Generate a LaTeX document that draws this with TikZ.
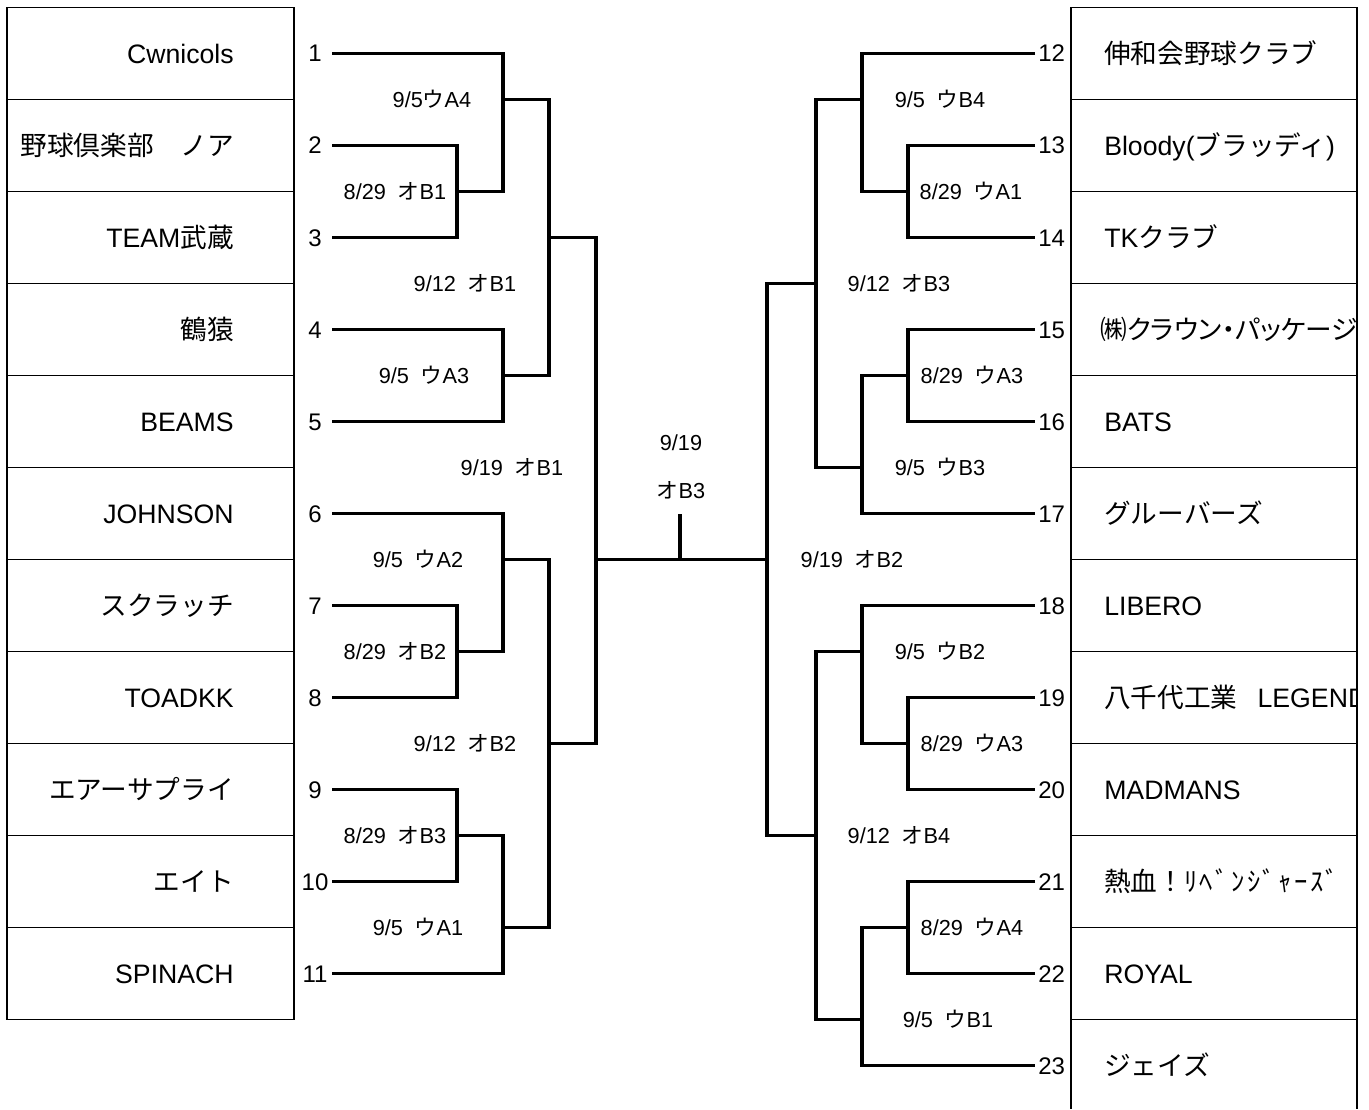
\documentclass[tikz,border=0pt]{standalone}
\usepackage{fontspec}
\setmainfont{Liberation Sans}
\newfontfamily\jp{Noto Sans CJK JP}
\newfontfamily\jpwide{Noto Sans CJK JP}[LetterSpace=9]
\newfontfamily\jpprop{Noto Sans CJK JP}[RawFeature=+palt]
\newcommand\labgap{\hspace{0.55em}}
\begin{document}
\begin{tikzpicture}[x=0.75pt,y=-0.75pt,
  grid/.style={line width=0.8pt,draw=black},
  br/.style={line width=2.5pt,draw=black,line join=miter},
  team/.style={font=\fontsize{20}{24}\selectfont,inner sep=0pt},
  num/.style={font=\fontsize{18}{21}\selectfont,inner sep=0pt},
  lab/.style={font=\fontsize{16.3}{19}\selectfont,inner sep=0pt,anchor=base}]
\useasboundingbox (0,0) rectangle (1369,1109);
% ---------- boxes ----------
\foreach \k in {0,...,11}{
  \draw[grid] (7,7.5+92*\k) -- (294,7.5+92*\k);
  \draw[grid] (1071,7.5+92*\k) -- (1357,7.5+92*\k);
}
\draw[grid] (7,7.5) -- (7,1019.5);
\draw[grid] (294,7.5) -- (294,1019.5);
\draw[grid] (1071,7.5) -- (1071,1109);
\draw[grid] (1357,7.5) -- (1357,1109);
% ---------- left teams ----------
\node[team,anchor=base east] (t1) at (234,63.2) {Cwnicols};
\node[team,anchor=base east] (t2) at (234,155.2) {\jp 野球倶楽部　ノア};
\node[team,anchor=base east] (t3) at (234,247.2) {TEAM{\jp 武蔵}};
\node[team,anchor=base east] (t4) at (234,339.2) {\jp 鶴猿};
\node[team,anchor=base east] (t5) at (234,431.2) {BEAMS};
\node[team,anchor=base east] (t6) at (234,523.2) {JOHNSON};
\node[team,anchor=base east] (t7) at (234,615.2) {\jp スクラッチ};
\node[team,anchor=base east] (t8) at (234,707.2) {TOADKK};
\node[team,anchor=base east] (t9) at (234,799.2) {\jp エアーサプライ};
\node[team,anchor=base east] (t10) at (234,891.2) {\jp エイト};
\node[team,anchor=base east] (t11) at (234,983.2) {SPINACH};
% ---------- right teams ----------
\begin{scope}
\clip (1071,0) rectangle (1356,1109);
\node[team,anchor=base west] (t12) at (1104,63.2) {\jp 伸和会野球クラブ};
\node[team,anchor=base west] (t13) at (1104,155.2) {Bloody({\jp ブラッディ})};
\node[team,anchor=base west] (t14) at (1104,247.2) {TK{\jp クラブ}};
\node[team,anchor=base west] (t15) at (1100,339.2) {\jpprop ㈱クラウン・パッケージ};
\node[team,anchor=base west] (t16) at (1104,431.2) {BATS};
\node[team,anchor=base west] (t17) at (1104,523.2) {\jp グルーバーズ};
\node[team,anchor=base west] (t18) at (1104,615.2) {LIBERO};
\node[team,anchor=base west] (t19) at (1104,707.2) {{\jp 八千代工業}\hspace{0.75em}LEGEND};
\node[team,anchor=base west] (t20) at (1104,799.2) {MADMANS};
\node[team,anchor=base west] (t21) at (1104,891.2) {{\jp 熱血！}{\jpwide ﾘﾍﾞﾝｼﾞｬｰｽﾞ}};
\node[team,anchor=base west] (t22) at (1104,983.2) {ROYAL};
\node[team,anchor=base west] (t23) at (1104,1075.2) {\jp ジェイズ};
\end{scope}
% ---------- seed numbers ----------
\foreach \i in {1,...,11}{
  \node[num,anchor=base] (n\i) at (315,62+92*\i-92) {\i};
  \coordinate (s\i) at (332,53.5+92*\i-92);
}
\foreach \i in {12,...,23}{
  \node[num,anchor=base west] (n\i) at (1038,62+92*\i-1104) {\i};
  \coordinate (s\i) at (1035,53.5+92*\i-1104);
}
% ---------- junctions ----------
\coordinate (v23) at (457,191.5);
\coordinate (v123) at (503,99.5);
\coordinate (v45) at (503,375.5);
\coordinate (v15) at (549,237.5);
\coordinate (v78) at (457,651.5);
\coordinate (v678) at (503,559.5);
\coordinate (v910) at (457,835.5);
\coordinate (v911) at (503,927.5);
\coordinate (v611) at (549,743.5);
\coordinate (vL) at (596,559.5);
\coordinate (v1314) at (908,191.5);
\coordinate (v1214) at (862,99.5);
\coordinate (v1516) at (908,375.5);
\coordinate (v1517) at (862,467.5);
\coordinate (v1217) at (816,283.5);
\coordinate (v1920) at (908,743.5);
\coordinate (v1820) at (862,651.5);
\coordinate (v2122) at (908,927.5);
\coordinate (v2123) at (862,1019.5);
\coordinate (v1823) at (816,835.5);
\coordinate (vR) at (767,559.5);
\coordinate (ftop) at (680,514);
\coordinate (fbot) at (680,559.5);
% ---------- left bracket ----------
\draw[br] (s2) -| (v23) |- (s3);
\draw[br] (s1) -| (v123) |- (v23);
\draw[br] (s4) -| (v45) |- (s5);
\draw[br] (v123) -| (v15) |- (v45);
\draw[br] (s7) -| (v78) |- (s8);
\draw[br] (s6) -| (v678) |- (v78);
\draw[br] (s9) -| (v910) |- (s10);
\draw[br] (v910) -| (v911) |- (s11);
\draw[br] (v678) -| (v611) |- (v911);
\draw[br] (v15) -| (vL) |- (v611);
% ---------- right bracket ----------
\draw[br] (s13) -| (v1314) |- (s14);
\draw[br] (s12) -| (v1214) |- (v1314);
\draw[br] (s15) -| (v1516) |- (s16);
\draw[br] (v1516) -| (v1517) |- (s17);
\draw[br] (v1214) -| (v1217) |- (v1517);
\draw[br] (s19) -| (v1920) |- (s20);
\draw[br] (s18) -| (v1820) |- (v1920);
\draw[br] (s21) -| (v2122) |- (s22);
\draw[br] (v2122) -| (v2123) |- (s23);
\draw[br] (v1820) -| (v1823) |- (v2123);
\draw[br] (v1217) -| (vR) |- (v1823);
% ---------- final ----------
\draw[br] (vL) -- (vR);
\draw[br] (ftop) -- (fbot);
% ---------- match labels ----------
\node[lab] (m1) at (432,107.2) {9/5{\jp ウ}A4};
\node[lab] (m2) at (395,199.2) {8/29\labgap{\jp オ}B1};
\node[lab] (m3) at (465,291.2) {9/12\labgap{\jp オ}B1};
\node[lab] (m4) at (424,383.2) {9/5\labgap{\jp ウ}A3};
\node[lab] (m5) at (512,475.2) {9/19\labgap{\jp オ}B1};
\node[lab] (m6) at (418,567.2) {9/5\labgap{\jp ウ}A2};
\node[lab] (m7) at (395,659.2) {8/29\labgap{\jp オ}B2};
\node[lab] (m8) at (465,751.2) {9/12\labgap{\jp オ}B2};
\node[lab] (m9) at (395,843.2) {8/29\labgap{\jp オ}B3};
\node[lab] (m10) at (418,935.2) {9/5\labgap{\jp ウ}A1};
\node[lab] (c1) at (681,450.7) {9/19};
\node[lab] (c2) at (681,498.7) {{\jp オ}B3};
\node[lab] (m11) at (940,107.2) {9/5\labgap{\jp ウ}B4};
\node[lab] (m12) at (971,199.2) {8/29\labgap{\jp ウ}A1};
\node[lab] (m13) at (899,291.2) {9/12\labgap{\jp オ}B3};
\node[lab] (m14) at (972,383.2) {8/29\labgap{\jp ウ}A3};
\node[lab] (m15) at (940,475.2) {9/5\labgap{\jp ウ}B3};
\node[lab] (m16) at (852,567.2) {9/19\labgap{\jp オ}B2};
\node[lab] (m17) at (940,659.2) {9/5\labgap{\jp ウ}B2};
\node[lab] (m18) at (972,751.2) {8/29\labgap{\jp ウ}A3};
\node[lab] (m19) at (899,843.2) {9/12\labgap{\jp オ}B4};
\node[lab] (m20) at (972,935.2) {8/29\labgap{\jp ウ}A4};
\node[lab] (m21) at (948,1027.2) {9/5\labgap{\jp ウ}B1};
\end{tikzpicture}
\end{document}
